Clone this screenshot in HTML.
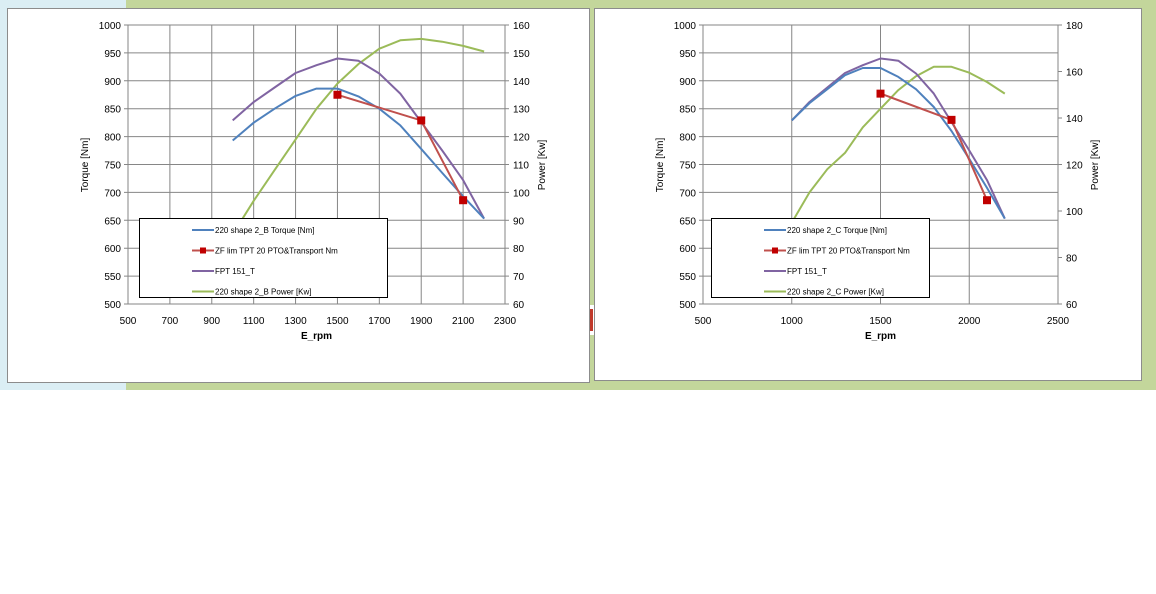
<!DOCTYPE html>
<html><head><meta charset="utf-8"><style>
body{margin:0;width:1156px;height:594px;background:#fff;overflow:hidden}
svg{display:block}
text{font-family:"Liberation Sans",sans-serif;font-size:10px;fill:#000}
</style></head><body>
<svg id="s" width="1156" height="594" xmlns="http://www.w3.org/2000/svg">
<rect x="0" y="0" width="1156" height="390" fill="#c3d69b"/>
<rect x="0" y="0" width="126" height="390" fill="#dbeef4"/>
<rect x="589" y="305" width="5" height="30" fill="#fff"/>
<rect x="589" y="309" width="4" height="22" fill="#c0392b"/>
<rect x="7.5" y="8.5" width="582" height="374" fill="#fff" stroke="#8c8c8c"/>
<rect x="594.5" y="8.5" width="547" height="372" fill="#fff" stroke="#8c8c8c"/>
<g id="g"></g>
</svg>
<script>
var g=document.getElementById('g'),h='';
function chart(o){
 var X=function(v){return o.x0+(v-o.xmin)/(o.xmax-o.xmin)*(o.x1-o.x0)};
 var Y=function(v){return 304-(v-500)/500*279};
 var P=function(v){return 304-(v-o.pmin)/(o.pmax-o.pmin)*279};
 for(var v=o.xmin;v<=o.xmax;v+=o.xs){var x=X(v);h+='<line x1="'+x+'" y1="25" x2="'+x+'" y2="304" stroke="#868686"/>';h+='<text x="'+x+'" y="324" text-anchor="middle">'+v+'</text>';}
 for(var v=500;v<=1000;v+=50){var y=Y(v);h+='<line x1="'+(o.x0-4)+'" y1="'+y+'" x2="'+o.x1+'" y2="'+y+'" stroke="#868686"/>';h+='<text x="'+(o.x0-7)+'" y="'+(y+4)+'" text-anchor="end">'+v+'</text>';}
 for(var v=o.pmin;v<=o.pmax;v+=o.ps){var y=P(v);h+='<line x1="'+o.x1+'" y1="'+y+'" x2="'+(o.x1+4)+'" y2="'+y+'" stroke="#868686"/>';h+='<text x="'+(o.x1+8)+'" y="'+(y+4)+'">'+v+'</text>';}
 var cx=(o.x0+o.x1)/2;
 h+='<text x="'+cx+'" y="339" text-anchor="middle" font-weight="bold">E_rpm</text>';
 h+='<text transform="translate('+(o.x0-40)+',165) rotate(-90)" text-anchor="middle">Torque [Nm]</text>';
 h+='<text transform="translate('+(o.x1+40)+',165) rotate(-90)" text-anchor="middle">Power [Kw]</text>';
 function line(d,f,c,w){var p=d.map(function(a){return X(a[0]).toFixed(1)+','+f(a[1]).toFixed(1)}).join(' ');h+='<polyline points="'+p+'" fill="none" stroke="'+c+'" stroke-width="'+w+'" stroke-linejoin="round"/>';}
 line(o.green,P,'#9bbb59',2);
 line(o.purple,Y,'#8064a2',2);
 line(o.blue,Y,'#4f81bd',2);
 line(o.red,Y,'#c0504d',2);
 o.red.forEach(function(a){h+='<rect x="'+(X(a[0])-4)+'" y="'+(Y(a[1])-4)+'" width="8" height="8" fill="#c00000"/>'});
 var lx=o.lx,lw=o.lw;
 h+='<rect x="'+lx+'.5" y="218.5" width="'+lw+'" height="79" fill="#fff" stroke="#000"/>';
 var items=[['#4f81bd',o.n1],['#c0504d',o.n2],['#8064a2','FPT 151_T'],['#9bbb59',o.n4]];
 items.forEach(function(it,i){var y=230+i*20.5,sx=lx+53;h+='<line x1="'+sx+'" y1="'+y+'" x2="'+(sx+22)+'" y2="'+y+'" stroke="'+it[0]+'" stroke-width="2"/>';if(i==1)h+='<rect x="'+(sx+8)+'" y="'+(y-3)+'" width="6" height="6" fill="#c00000"/>';h+='<text x="'+(sx+23)+'" y="'+(y+3)+'" font-size="8" style="font-size:8px">'+it[1]+'</text>';});
}
var purple=[[1000,829],[1100,862],[1200,888],[1300,914],[1400,928],[1500,940],[1600,936],[1700,913],[1800,877],[1900,826],[2000,775],[2100,722],[2200,653]];
chart({x0:128,x1:505,xmin:500,xmax:2300,xs:200,pmin:60,pmax:160,ps:10,lx:139,lw:248,
 n1:'220 shape 2_B Torque [Nm]',n2:'ZF lim TPT 20 PTO&amp;Transport Nm',n4:'220 shape 2_B Power [Kw]',
 blue:[[1000,793],[1100,825],[1200,850],[1300,873],[1400,886],[1500,886],[1600,872],[1700,850],[1800,820],[1900,778],[2000,735],[2100,693],[2200,653]],
 purple:purple,red:[[1500,875],[1900,829],[2100,686]],
 green:[[1000,85],[1100,97],[1200,108],[1300,119],[1400,130],[1500,139],[1600,146],[1700,151.5],[1800,154.5],[1900,155],[2000,154],[2100,152.5],[2200,150.5]]});
chart({x0:703,x1:1058,xmin:500,xmax:2500,xs:500,pmin:60,pmax:180,ps:20,lx:711,lw:218,
 n1:'220 shape 2_C Torque [Nm]',n2:'ZF lim TPT 20 PTO&amp;Transport Nm',n4:'220 shape 2_C Power [Kw]',
 blue:[[1000,829],[1100,860],[1200,885],[1300,910],[1400,923],[1500,923],[1600,907],[1700,885],[1800,853],[1900,810],[2000,760],[2100,708],[2200,653]],
 purple:purple,red:[[1500,877],[1900,830],[2100,686]],
 green:[[1000,95],[1100,108],[1200,118],[1300,125],[1400,136],[1500,144],[1600,152],[1700,158],[1800,162],[1900,162],[2000,159.5],[2100,155.5],[2200,150.5]]});
g.innerHTML=h;
</script>
</body></html>
